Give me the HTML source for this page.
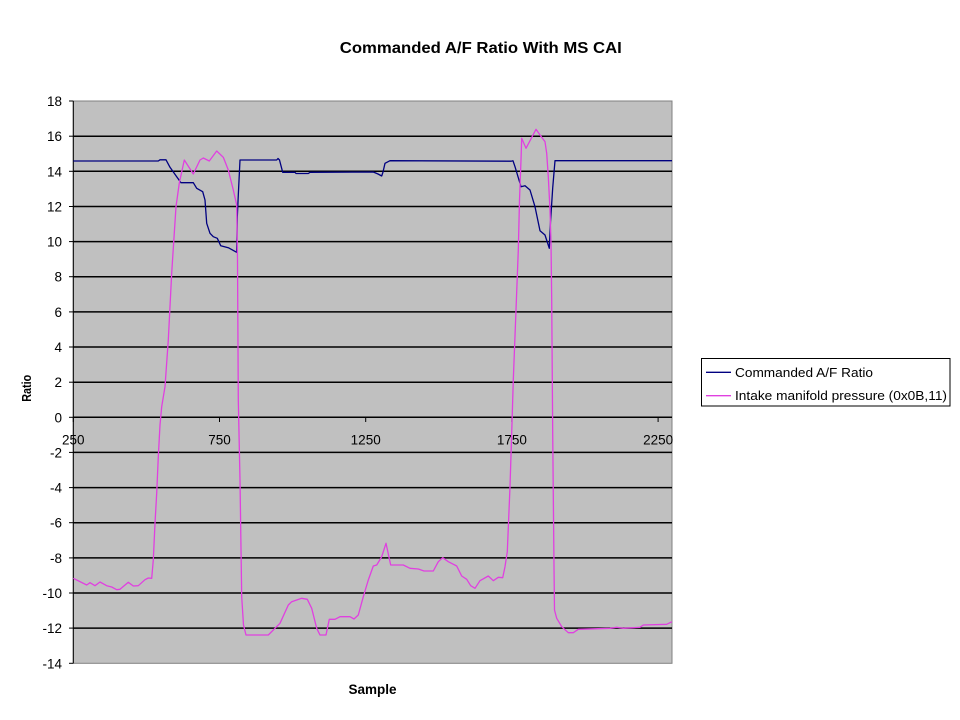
<!DOCTYPE html>
<html>
<head>
<meta charset="utf-8">
<style>
html,body{margin:0;padding:0;background:#fff;}
svg{display:block;}
text{font-family:"Liberation Sans",Arial,sans-serif;fill:#000;}
</style>
</head>
<body>
<svg width="960" height="720" viewBox="0 0 960 720" xmlns="http://www.w3.org/2000/svg">
<rect x="0" y="0" width="960" height="720" fill="#fff"/>
<text x="480.8" y="53" font-size="16" font-weight="bold" text-anchor="middle" textLength="282" lengthAdjust="spacingAndGlyphs">Commanded A/F Ratio With MS CAI</text>

<!-- plot area -->
<rect x="73.3" y="101" width="598.7" height="562.3" fill="#c0c0c0" stroke="#808080" stroke-width="1"/>

<!-- gridlines -->
<g stroke="#000" stroke-width="1.5">
<line x1="73.3" x2="672" y1="136.2" y2="136.2"/>
<line x1="73.3" x2="672" y1="171.3" y2="171.3"/>
<line x1="73.3" x2="672" y1="206.5" y2="206.5"/>
<line x1="73.3" x2="672" y1="241.6" y2="241.6"/>
<line x1="73.3" x2="672" y1="276.7" y2="276.7"/>
<line x1="73.3" x2="672" y1="311.9" y2="311.9"/>
<line x1="73.3" x2="672" y1="347.0" y2="347.0"/>
<line x1="73.3" x2="672" y1="382.2" y2="382.2"/>
<line x1="73.3" x2="672" y1="417.3" y2="417.3"/>
<line x1="73.3" x2="672" y1="452.4" y2="452.4"/>
<line x1="73.3" x2="672" y1="487.6" y2="487.6"/>
<line x1="73.3" x2="672" y1="522.7" y2="522.7"/>
<line x1="73.3" x2="672" y1="557.9" y2="557.9"/>
<line x1="73.3" x2="672" y1="593.0" y2="593.0"/>
<line x1="73.3" x2="672" y1="628.1" y2="628.1"/>
</g>

<!-- y axis -->
<g stroke="#000" stroke-width="1">
<line x1="73.3" x2="73.3" y1="101" y2="663.3"/>
<line x1="69" x2="73.3" y1="101" y2="101"/>
<line x1="69" x2="73.3" y1="136.2" y2="136.2"/>
<line x1="69" x2="73.3" y1="171.3" y2="171.3"/>
<line x1="69" x2="73.3" y1="206.5" y2="206.5"/>
<line x1="69" x2="73.3" y1="241.6" y2="241.6"/>
<line x1="69" x2="73.3" y1="276.7" y2="276.7"/>
<line x1="69" x2="73.3" y1="311.9" y2="311.9"/>
<line x1="69" x2="73.3" y1="347.0" y2="347.0"/>
<line x1="69" x2="73.3" y1="382.2" y2="382.2"/>
<line x1="69" x2="73.3" y1="417.3" y2="417.3"/>
<line x1="69" x2="73.3" y1="452.4" y2="452.4"/>
<line x1="69" x2="73.3" y1="487.6" y2="487.6"/>
<line x1="69" x2="73.3" y1="522.7" y2="522.7"/>
<line x1="69" x2="73.3" y1="557.9" y2="557.9"/>
<line x1="69" x2="73.3" y1="593.0" y2="593.0"/>
<line x1="69" x2="73.3" y1="628.1" y2="628.1"/>
<line x1="69" x2="73.3" y1="663.3" y2="663.3"/>
<!-- x ticks -->
<line x1="73.3" x2="73.3" y1="417.3" y2="422"/>
<line x1="219.5" x2="219.5" y1="417.3" y2="422"/>
<line x1="365.7" x2="365.7" y1="417.3" y2="422"/>
<line x1="511.9" x2="511.9" y1="417.3" y2="422"/>
<line x1="658.1" x2="658.1" y1="417.3" y2="422"/>
</g>

<!-- y labels -->
<g font-size="13.5" text-anchor="end">
<text x="62" y="106">18</text>
<text x="62" y="141.2">16</text>
<text x="62" y="176.3">14</text>
<text x="62" y="211.5">12</text>
<text x="62" y="246.6">10</text>
<text x="62" y="281.7">8</text>
<text x="62" y="316.9">6</text>
<text x="62" y="352">4</text>
<text x="62" y="387.2">2</text>
<text x="62" y="422.3">0</text>
<text x="62" y="457.4">-2</text>
<text x="62" y="492.6">-4</text>
<text x="62" y="527.7">-6</text>
<text x="62" y="562.9">-8</text>
<text x="62" y="598">-10</text>
<text x="62" y="633.1">-12</text>
<text x="62" y="668.3">-14</text>
</g>
<!-- x labels -->
<g font-size="13.5" text-anchor="middle">
<text x="73.3" y="444.5">250</text>
<text x="219.5" y="444.5">750</text>
<text x="365.7" y="444.5">1250</text>
<text x="511.9" y="444.5">1750</text>
<text x="658.1" y="444.5">2250</text>
</g>

<!-- series: commanded A/F -->
<path fill="none" stroke="#000080" stroke-width="1.3" stroke-linejoin="round" d="M73.3,161 L158.3,161 L160,159.8 L166,159.8 L170,167.3 L176.7,176.7 L181,182.7 L193.3,182.7 L196.7,188.3 L202.7,191.7 L205,200 L206.7,223.3 L210,233.3 L213.3,236.7 L217.3,238.3 L220.7,245.7 L228.3,247.7 L236.7,252.3 L237.3,216.7 L238.3,195 L240,160 L276.7,160 L278,158.5 L279.5,160 L282.7,172.3 L295,172.3 L296,173.5 L308.3,173.5 L310,172.3 L373.3,172 L378,174 L381.7,176 L383,172 L385,163.3 L390,160.7 L511,161.2 L513,160.8 L515,166.7 L521,186.7 L525,185.7 L530,190 L535,206.7 L540,230.7 L545,235 L549.3,248.3 L550.5,222 L552.7,188 L555,160.7 L672,160.7"/>

<!-- series: intake manifold pressure -->
<path fill="none" stroke="#e040e0" stroke-width="1.3" stroke-linejoin="round" d="M73.3,578.3 L86.7,585 L90,582.7 L95,585.7 L100,582 L106.7,585.7 L111.7,587 L116.7,589.7 L120,589.3 L128.3,582.3 L133.3,586 L138.3,585.7 L145,579.7 L148.3,578 L151.7,578.3 L153.3,560 L155,523.3 L156.7,493.3 L158.3,456.7 L160,425 L161.7,406.7 L165,386.7 L168.3,340 L171.7,273 L176,206.7 L179.3,183 L184.3,160 L193.3,174 L200,160 L203.3,158 L209.3,161 L216.7,151 L223.3,157.3 L228.3,170 L233.3,190 L236.7,205 L237.5,260 L238.3,400 L240,480 L241.7,596.7 L243.5,625 L246,635 L268.3,635 L275,628.3 L280,623.3 L288.3,605 L291.7,601.7 L296.7,600 L301.7,598.3 L307.3,599.3 L311.7,608.3 L316.7,628.3 L320,635 L326,635 L329.3,619.3 L335,619.3 L340,616.7 L350,616.7 L354,619 L358.3,615 L363.3,596.7 L368.3,580 L373.3,566 L376.7,565 L381.7,556.7 L386,543.3 L390.7,565 L403.3,565 L410,568.3 L418.3,569 L424,571 L433.3,571 L438.3,561.7 L442.7,557.7 L448.3,561.7 L456.7,566 L461.7,576 L466.7,579.3 L470.7,585.7 L475,588.3 L480,580.7 L488.3,576 L493.3,580.7 L498.3,577.3 L502.7,577.7 L505,566.7 L507.3,551.7 L510,486.7 L511.7,433 L513.3,380 L516,310 L518.3,250 L519.5,200 L521,160 L521.7,138.3 L526,148.3 L536,129.3 L540,135 L545,141.7 L546.7,153.3 L548.3,176.7 L550,210 L551,243 L551.7,300 L552.7,433 L554,566.7 L554.5,610 L556.7,618.3 L561.7,626.7 L568.3,632.7 L573.3,632.7 L578.3,629.3 L610,628.3 L616.7,627.3 L623.3,628.3 L640,627.3 L643.3,625 L666.7,624.3 L672,621.7"/>

<!-- axis titles -->
<text x="372.5" y="694" font-size="13.5" font-weight="bold" text-anchor="middle" textLength="48" lengthAdjust="spacingAndGlyphs">Sample</text>
<text transform="translate(31,388.3) rotate(-90)" x="0" y="0" font-size="12.5" font-weight="bold" text-anchor="middle" textLength="27" lengthAdjust="spacingAndGlyphs">Ratio</text>

<!-- legend -->
<rect x="701.5" y="358.5" width="248.5" height="47.5" fill="#fff" stroke="#000" stroke-width="1"/>
<line x1="706" x2="731" y1="372.3" y2="372.3" stroke="#000080" stroke-width="1.3"/>
<line x1="706" x2="731" y1="395.7" y2="395.7" stroke="#e040e0" stroke-width="1.3"/>
<text x="735" y="377" font-size="13" textLength="138" lengthAdjust="spacingAndGlyphs">Commanded A/F Ratio</text>
<text x="735" y="400" font-size="13" textLength="212" lengthAdjust="spacingAndGlyphs">Intake manifold pressure (0x0B,11)</text>
</svg>
</body>
</html>
